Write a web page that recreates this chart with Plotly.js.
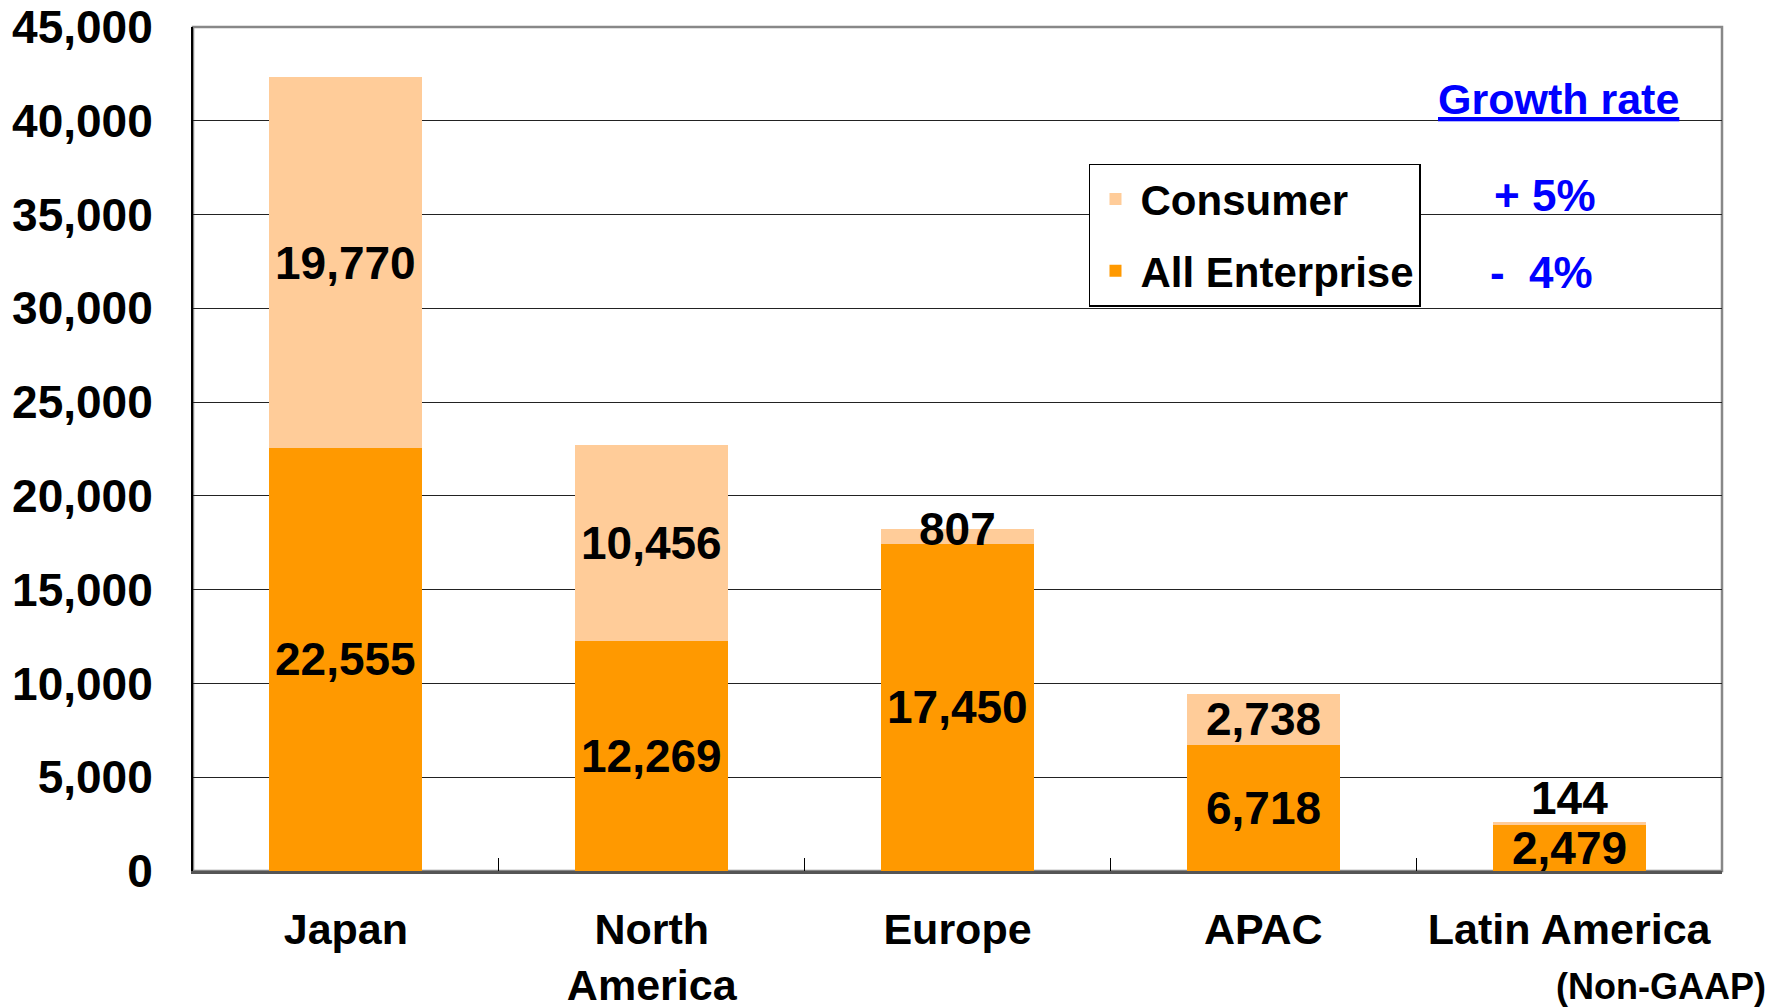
<!DOCTYPE html>
<html>
<head>
<meta charset="utf-8">
<script src="https://cdn.plot.ly/plotly-3.0.1.min.js"></script>
<style>
  html, body { margin: 0; padding: 0; background: #fff; }
  #chart { width: 1784px; height: 1008px; }
</style>
</head>
<body>
<div id="chart"></div>
<script>
// ---- Data ----
const regions = ["Japan", "North<br>America", "Europe", "APAC", "Latin America"];
const enterprise = [22555, 12269, 17450, 6718, 2479];
const consumer = [19770, 10456, 807, 2738, 144];
const seriesNames = ["All Enterprise", "Consumer"];
const growthTitle = "Growth rate";
const growthRates = ["+ 5%", "-\u00A0\u00A04%"];
const yTicks = [0, 5000, 10000, 15000, 20000, 25000, 30000, 35000, 40000, 45000];
const footnote = "(Non-GAAP)";

// ---- Styles ----
const FONT = "Liberation Sans, Arial, Helvetica, sans-serif";
const cEnt = "#FF9900";
const cCon = "#FFCC99";

const fmt = v => v.toLocaleString("en-US");

const traces = [
  {
    type: "bar", name: seriesNames[0], x: regions, y: enterprise,
    marker: { color: cEnt, line: { width: 0 } }, legendgroup: "e", legendrank: 2,
    hoverinfo: "x+y"
  },
  {
    type: "bar", name: seriesNames[1], x: regions, y: consumer,
    marker: { color: cCon, line: { width: 0 } }, legendgroup: "c", legendrank: 1,
    hoverinfo: "x+y"
  }
];

const labelFont = { family: FONT, size: 46, color: "#000", weight: 700 };
const annotations = [];
regions.forEach((r, i) => {
  annotations.push({
    x: r, y: enterprise[i] / 2, xref: "x", yref: "y",
    text: fmt(enterprise[i]), showarrow: false, font: labelFont,
    yanchor: "middle"
  });
  const tot = enterprise[i] + consumer[i];
  if (consumer[i] >= 1500) {
    annotations.push({
      x: r, y: enterprise[i] + consumer[i] / 2, xref: "x", yref: "y",
      text: fmt(consumer[i]), showarrow: false, font: labelFont, yanchor: "middle"
    });
  } else {
    annotations.push({
      x: r, y: tot, xref: "x", yref: "y",
      text: fmt(consumer[i]), showarrow: false, font: labelFont,
      yanchor: consumer[i] < 500 ? "bottom" : "middle", yshift: consumer[i] < 500 ? -4 : 0
    });
  }
});

const blueFont = { family: FONT, size: 44, color: "#0000FF", weight: 700 };
annotations.push({
  xref: "paper", yref: "paper", x: 0.893, y: 0.915, xanchor: "center", yanchor: "middle",
  text: "<u>" + growthTitle + "</u>", showarrow: false, font: { family: FONT, size: 43, color: "#0000FF", weight: 700 }
});
annotations.push({
  xref: "paper", yref: "paper", x: 0.884, y: 0.800, xanchor: "center", yanchor: "middle",
  text: growthRates[0], showarrow: false, font: blueFont
});
annotations.push({
  xref: "paper", yref: "paper", x: 0.882, y: 0.709, xanchor: "center", yanchor: "middle",
  text: growthRates[1], showarrow: false, font: blueFont
});
annotations.push({
  xref: "paper", yref: "paper", x: 1.03, y: -0.137, xanchor: "right", yanchor: "middle",
  text: footnote, showarrow: false, font: { family: FONT, size: 36, color: "#000", weight: 700 }
});

const layout = {
  width: 1784, height: 1008,
  margin: { l: 193, r: 62, t: 27, b: 137 },
  paper_bgcolor: "#fff", plot_bgcolor: "#fff",
  font: { family: FONT, color: "#000", weight: 700 },
  barmode: "stack",
  bargap: 0.5,
  showlegend: true,
  legend: {
    x: 0.586, y: 0.838, xanchor: "left", yanchor: "top",
    traceorder: "grouped", tracegroupgap: 14,
    bgcolor: "#fff", bordercolor: "#000", borderwidth: 1.5,
    font: { family: FONT, size: 42, color: "#000", weight: 700 },
    itemwidth: 40
  },
  xaxis: {
    type: "category",
    showline: true, linecolor: "#555", linewidth: 3,
    ticks: "inside", tickson: "boundaries", ticklen: 13, tickcolor: "#000", tickwidth: 1,
    tickfont: { family: FONT, size: 43, color: "#000", weight: 700 },
    ticklabelstandoff: 18,
    showgrid: false, zeroline: false, fixedrange: true
  },
  yaxis: {
    range: [0, 45000], tickvals: yTicks, ticktext: yTicks.map(fmt),
    showline: true, linecolor: "#000", linewidth: 2,
    showgrid: true, gridcolor: "#222", gridwidth: 1,
    zeroline: false, ticks: "",
    tickfont: { family: FONT, size: 46, color: "#000", weight: 700 },
    ticklabelstandoff: 29, fixedrange: true
  },
  shapes: [
    { type: "rect", xref: "paper", yref: "paper", x0: 0, x1: 1, y0: 0, y1: 1,
      line: { color: "#888", width: 2.5 }, fillcolor: "rgba(0,0,0,0)", layer: "below" }
  ],
  annotations: annotations
};

Plotly.newPlot("chart", traces, layout, { displayModeBar: false, staticPlot: true });
</script>
</body>
</html>
